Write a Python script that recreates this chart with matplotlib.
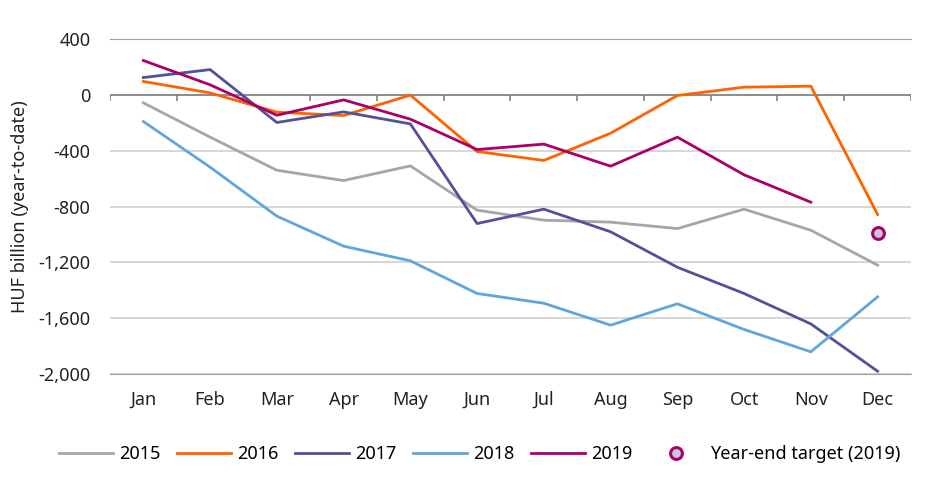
import numpy as np
import matplotlib.pyplot as plt

plt.rcParams['font.family'] = ['Noto Sans', 'DejaVu Sans']

months = ['Jan', 'Feb', 'Mar', 'Apr', 'May', 'Jun', 'Jul', 'Aug', 'Sep', 'Oct', 'Nov', 'Dec']
y2015 = [-57, -303, -540, -614, -509, -826, -898, -912, -958, -819, -970, -1220]
y2016 = [96, 14, -124, -148, -2, -406, -470, -275, -5, 55, 62, -857]
y2017 = [124, 181, -198, -122, -208, -922, -819, -981, -1235, -1423, -1641, -1980]
y2018 = [-191, -518, -869, -1084, -1189, -1423, -1493, -1650, -1497, -1681, -1841, -1447]
y2019 = [246, 72, -146, -36, -174, -392, -353, -511, -303, -573, -769]
target_2019 = -989

fig = plt.figure(figsize=(9.53, 4.92), dpi=100)
ax = fig.add_axes([0.1154, 0.2398, 0.8405, 0.6809])

x = np.arange(len(months))
series = [('2015', y2015, '#a6a6a6'), ('2016', y2016, '#ff6200'),
          ('2017', y2017, '#525199'), ('2018', y2018, '#60a6da'),
          ('2019', y2019, '#ab0066')]
for name, vals, col in series:
    ax.plot(x[:len(vals)], vals, color=col, lw=2.0, label=name)

ax.plot([x[-1]], [target_2019], 'o', ms=8.5, mfc='#c8c8dc', mec='#ab0066', mew=2.2,
        ls='none', label='Year-end target (2019)')

ax.set_xlim(-0.5, 11.5)
ax.set_ylim(-2000, 400)
ax.set_yticks(np.arange(-2000, 401, 400))
ax.set_yticklabels(['-2,000', '-1,600', '-1,200', '-800', '-400', '0', '400'])
ax.set_xticks(x)
ax.set_xticklabels(months)
ax.tick_params(axis='both', length=0, labelsize=13, colors='#222222')
ax.tick_params(axis='y', pad=14)
ax.tick_params(axis='x', pad=12)

for s in ['left', 'right']:
    ax.spines[s].set_visible(False)
ax.spines['top'].set_color('#a0a0a0')
ax.spines['bottom'].set_color('#a0a0a0')
ax.yaxis.grid(True, color='#d0d0d0', lw=1.2)
ax.set_axisbelow(True)

# category axis at zero with boundary ticks
ax.axhline(0, color='#808080', lw=1.2, zorder=1)
ax.vlines(np.arange(-0.5, 12, 1), -45, 0, color='#808080', lw=1.2, zorder=1)

ax.set_ylabel('HUF billion (year-to-date)', fontsize=13, color='#222222', labelpad=7)

fig.legend(loc='lower center', bbox_to_anchor=(0.503, 0.025), ncol=6, frameon=False,
           fontsize=13, handlelength=3.0, columnspacing=0.9, handletextpad=0.35)

fig.savefig('out.png', dpi=100)
